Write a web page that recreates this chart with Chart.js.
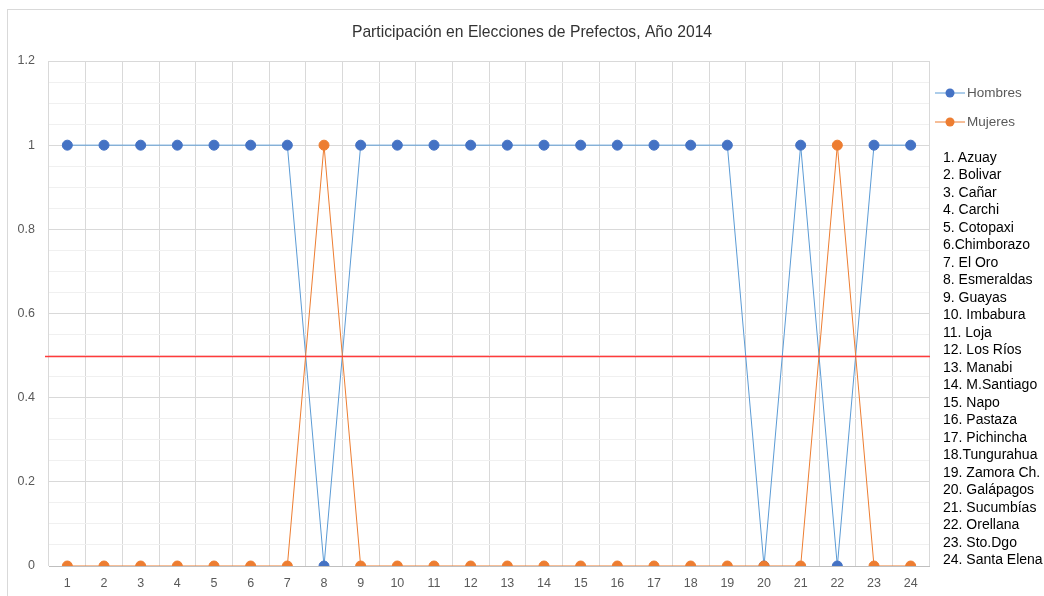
<!DOCTYPE html>
<html lang="es">
<head>
<meta charset="UTF-8">
<title>Participación en Elecciones de Prefectos, Año 2014</title>
<script src="https://cdn.jsdelivr.net/npm/chart.js"></script>
<style>
    body { margin: 0; background: #fff; font-family: "Liberation Sans", Arial, sans-serif; }
    #wrap { position: relative; width: 1044px; height: 596px; }
    #provincias {
        position: absolute; left: 943px; top: 149px;
        font-size: 14px; line-height: 17.48px; color: #000;
        white-space: nowrap;
    }
</style>
</head>
<body>
<div id="wrap">
    <canvas id="chart" width="1044" height="596"></canvas>
    <div id="provincias"></div>
</div>
<script>
const titulo = "Participación en Elecciones de Prefectos, Año 2014";
const categorias = ["1","2","3","4","5","6","7","8","9","10","11","12","13","14","15","16","17","18","19","20","21","22","23","24"];
const hombres = [1,1,1,1,1,1,1,0,1,1,1,1,1,1,1,1,1,1,1,0,1,0,1,1];
const mujeres = [0,0,0,0,0,0,0,1,0,0,0,0,0,0,0,0,0,0,0,0,0,1,0,0];
const lineaReferencia = 0.5;
const provincias = ["1. Azuay","2. Bolivar","3. Cañar","4. Carchi","5. Cotopaxi","6.Chimborazo","7. El Oro",
    "8. Esmeraldas","9. Guayas","10. Imbabura","11. Loja","12. Los Ríos","13. Manabi","14. M.Santiago",
    "15. Napo","16. Pastaza","17. Pichincha","18.Tungurahua","19. Zamora Ch.","20. Galápagos",
    "21. Sucumbías","22. Orellana","23. Sto.Dgo","24. Santa Elena"];
const yTicks = [0, 0.2, 0.4, 0.6, 0.8, 1, 1.2];

document.getElementById("provincias").innerHTML = provincias.map(p => "<div>" + p + "</div>").join("");

const series = [
    { label: "Hombres", data: hombres, line: "#5B9BD5", point: "#4472C4", order: 1 },
    { label: "Mujeres", data: mujeres, line: "#ED7D31", point: "#ED7D31", order: 0 }
];

// marco, título, línea roja y leyenda
const extras = {
    id: "extras",
    beforeDraw(chart) {
        const c = chart.ctx;
        c.save();
        c.strokeStyle = "#d9d9d9";
        c.lineWidth = 1;
        c.strokeRect(7.5, 9.5, 1100, 700);
        c.restore();
    },
    afterDatasetsDraw(chart) {
        const c = chart.ctx;
        const y = Math.round(chart.scales.y.getPixelForValue(lineaReferencia)) + 0.5;
        c.save();
        c.strokeStyle = "#FF3B3B";
        c.lineWidth = 1.6;
        c.beginPath();
        c.moveTo(45, y);
        c.lineTo(chart.chartArea.right + 1, y);
        c.stroke();
        c.restore();
    },
    afterDraw(chart) {
        const c = chart.ctx;
        c.save();
        c.fillStyle = "#333";
        c.font = "15.7px 'Liberation Sans', Arial, sans-serif";
        c.textAlign = "center";
        c.textBaseline = "middle";
        c.fillText(titulo, 532, 33);
        c.font = "13.5px 'Liberation Sans', Arial, sans-serif";
        c.textAlign = "left";
        series.forEach((s, i) => {
            const y = 93 + i * 29;
            c.strokeStyle = s.line;
            c.lineWidth = 1;
            c.beginPath();
            c.moveTo(935, y);
            c.lineTo(965, y);
            c.stroke();
            c.fillStyle = s.point;
            c.beginPath();
            c.arc(950, y, 4.5, 0, Math.PI * 2);
            c.fill();
            c.fillStyle = "#595959";
            c.fillText(s.label, 967, y);
        });
        c.restore();
    }
};

new Chart(document.getElementById("chart"), {
    type: "line",
    data: {
        labels: categorias,
        datasets: series.map(s => ({
            label: s.label,
            data: s.data,
            order: s.order,
            borderColor: s.line,
            backgroundColor: s.point,
            pointBackgroundColor: s.point,
            pointBorderColor: s.point,
            borderWidth: 1,
            pointRadius: 5,
            tension: 0
        }))
    },
    options: {
        responsive: false,
        animation: false,
        layout: { padding: { left: 0, right: 115, top: 61, bottom: 0 } },
        plugins: { legend: { display: false }, title: { display: false }, tooltip: { enabled: false } },
        scales: {
            x: {
                offset: true,
                grid: { offset: true, color: "#d9d9d9", drawTicks: false },
                border: { color: "#bfbfbf" },
                ticks: { color: "#595959", font: { size: 12.5, family: "'Liberation Sans', Arial" }, padding: 10 },
                afterFit(s) { s.height = 30; }
            },
            y: {
                min: 0, max: 1.2,
                afterBuildTicks(s) {
                    const t = [];
                    for (let i = 0; i <= 24; i++) t.push({ value: Math.round(i * 5) / 100 });
                    s.ticks = t;
                },
                grid: {
                    drawTicks: false,
                    color: ctx => yTicks.some(v => Math.abs(v - ctx.tick.value) < 1e-6) ? "#d9d9d9" : "#f0f0f0"
                },
                border: { display: false },
                ticks: {
                    color: "#595959",
                    font: { size: 12.5, family: "'Liberation Sans', Arial" },
                    padding: 14,
                    autoSkip: false,
                    callback: v => yTicks.some(t => Math.abs(t - v) < 1e-6) ? String(Math.round(v * 10) / 10) : ""
                },
                afterFit(s) { s.width = 49; }
            }
        }
    },
    plugins: [extras]
});
</script>
</body>
</html>
